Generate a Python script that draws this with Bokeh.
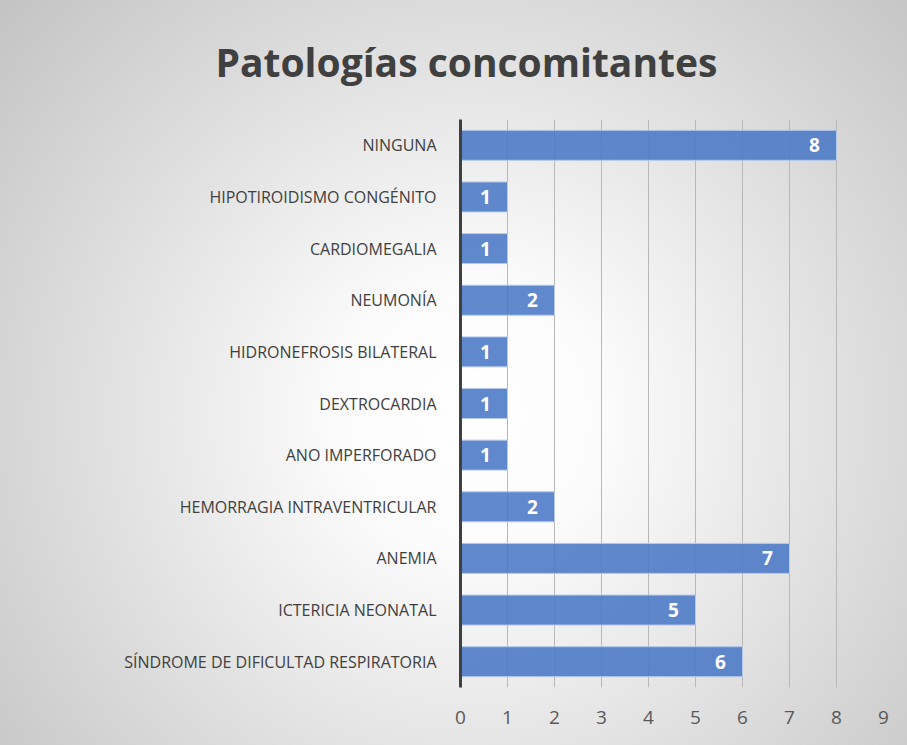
from bokeh.plotting import figure
from bokeh.models import Title, FactorRange, Range1d, FixedTicker
from bokeh.core.properties import value
from bokeh.embed import file_html
from bokeh.resources import INLINE

title_text = "Patologías concomitantes"
categories = [
    "NINGUNA",
    "HIPOTIROIDISMO CONGÉNITO",
    "CARDIOMEGALIA",
    "NEUMONÍA",
    "HIDRONEFROSIS BILATERAL",
    "DEXTROCARDIA",
    "ANO IMPERFORADO",
    "HEMORRAGIA INTRAVENTRICULAR",
    "ANEMIA",
    "ICTERICIA NEONATAL",
    "SÍNDROME DE DIFICULTAD RESPIRATORIA",
]
counts = [8, 1, 1, 2, 1, 1, 1, 2, 7, 5, 6]
x_ticks = [0, 1, 2, 3, 4, 5, 6, 7, 8, 9]

FONT = "Open Sans"

p = figure(
    width=907, height=745,
    y_range=FactorRange(factors=list(reversed(categories)), range_padding=0),
    x_range=Range1d(0, 9),
    output_backend="svg", toolbar_location=None,
    min_border_left=460, min_border_right=24,
    min_border_top=118, min_border_bottom=58,
)
p.styles = {
    "background": "radial-gradient(circle at 52% 56%, #ffffff 0%, #fbfbfb 22%, #dedede 62%, #c3c3c3 100%)"
}
p.border_fill_color = None
p.background_fill_color = None
p.outline_line_color = None

p.hbar(y=categories, right=counts, height=0.58, left=0,
       fill_color="#4a78c6", fill_alpha=0.88,
       line_color="#b4c8ea", line_width=1)

p.text(x=counts, y=categories, text=[str(c) for c in counts],
       x_offset=-22, text_align="center", text_baseline="middle",
       text_color="white", text_font=value(FONT), text_font_style="bold",
       text_font_size="19px")

# grid
p.ygrid.grid_line_color = None
p.xgrid.grid_line_color = "#b8b8b8"
p.xgrid.grid_line_width = 1
p.xaxis.ticker = FixedTicker(ticks=x_ticks)

# x axis
p.xaxis.axis_line_color = None
p.xaxis.major_tick_line_color = None
p.xaxis.minor_tick_line_color = None
p.xaxis.major_label_standoff = 17
p.xaxis.major_label_text_font = FONT
p.xaxis.major_label_text_font_size = "19px"
p.xaxis.major_label_text_color = "#595959"

# y axis
p.yaxis.axis_line_color = "#404040"
p.yaxis.axis_line_width = 3
p.yaxis.major_tick_line_color = None
p.yaxis.minor_tick_line_color = None
p.yaxis.major_label_standoff = 18
p.yaxis.major_label_text_font = FONT
p.yaxis.major_label_text_font_size = "16px"
p.yaxis.major_label_text_color = "#404040"

title = Title(text=title_text, align="left", offset=-245, standoff=64,
              text_font=FONT, text_font_style="bold", text_font_size="39px",
              text_color="#404040")
p.add_layout(title, "above")

open("out.html", "w").write(file_html(p, INLINE))
